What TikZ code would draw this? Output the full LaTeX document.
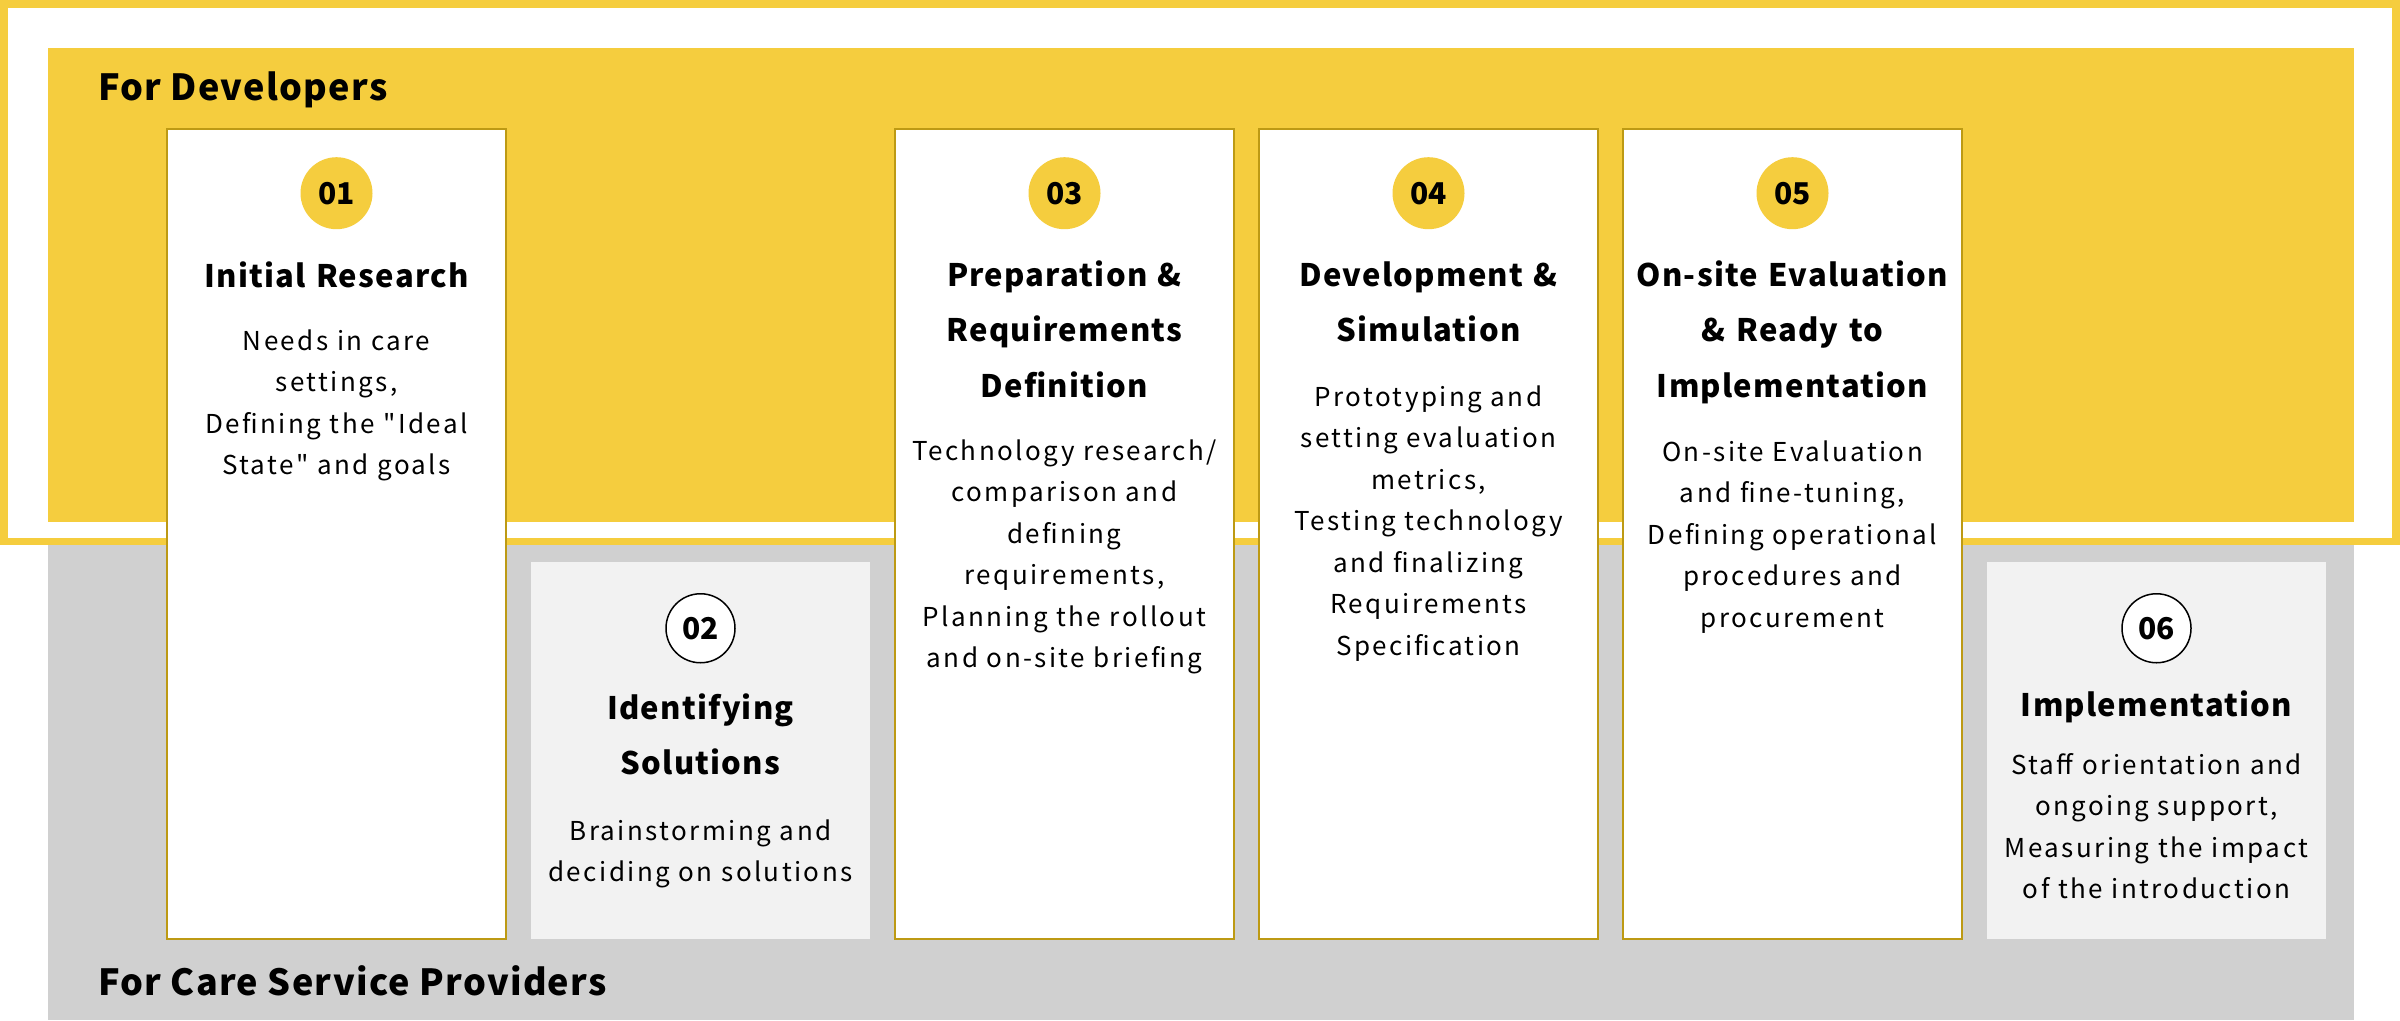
\documentclass[tikz,border=0pt]{standalone}
\usepackage{fontspec}
\setmainfont{Noto Sans CJK JP}[Ligatures=TeXOff]
\usetikzlibrary{positioning}
\definecolor{Mustard}{HTML}{F5CD3E}
\definecolor{Gold}{HTML}{BD9A14}
\definecolor{Band}{HTML}{D0D0D0}
\definecolor{Pale}{HTML}{F2F2F2}

\begin{document}
\begin{tikzpicture}
    [x=1pt, y=1pt,
     devbox/.style={draw=Gold, line width=2pt, fill=white, anchor=north,
                    inner sep=0pt, minimum width=339pt, minimum height=810pt},
     carebox/.style={fill=Pale, anchor=north, inner sep=0pt,
                     minimum width=339pt, minimum height=377pt},
     numdev/.style={circle, fill=Mustard, minimum size=72pt, inner sep=0pt,
                    font=\fontsize{30}{36}\selectfont\bfseries},
     numcare/.style={circle, draw=black, line width=1.5pt, fill=white,
                     minimum size=69pt, inner sep=0pt,
                     font=\fontsize{30}{36}\selectfont\bfseries},
     ttl/.style={anchor=base, text width=339pt, align=center, inner sep=0pt,
                 font=\fontsize{31}{55.5}\selectfont\bfseries\addfontfeatures{LetterSpace=4}},
     txt/.style={anchor=base, text width=339pt, align=center, inner sep=0pt,
                 font=\fontsize{26}{41.5}\selectfont\addfontfeatures{LetterSpace=9.3}},
     band/.style={anchor=base west, inner sep=0pt,
                  font=\fontsize{36}{40}\selectfont\bfseries\addfontfeatures{LetterSpace=3.6}},
    ]
    \useasboundingbox (0,0) rectangle (2400,-1020);

    % Developer frame
    \fill[Mustard] (0,0) rectangle (2400,-545);
    \fill[white] (8,-8) rectangle (2392,-538);
    \fill[Mustard] (48,-48) rectangle (2354,-522);
    % Care provider band
    \fill[Band] (48,-545) rectangle (2354,-1020);

    \node[band] (dev) at (98,-100) {For Developers};
    \node[band] (care) at (98,-995) {For Care Service Providers};

    % Steps done by developers
    \foreach \num / \cx / \ty / \by / \ttl / \txt in
             {01/336.5/-287/-350/{Initial Research}/
                {Needs in care\\settings,\\Defining the "Ideal\\State" and goals},
              03/1064.5/-286/-460/{Preparation \&\\Requirements\\Definition}/
                {Technology research/\\comparison and\\defining\\requirements,\\Planning the rollout\\and on-site briefing},
              04/1428.5/-286/-406/{Development \&\\Simulation}/
                {Prototyping and\\setting evaluation\\metrics,\\Testing technology\\and finalizing\\Requirements\\Specification},
              05/1792.5/-286/-461/{On-site Evaluation\\\& Ready to\\Implementation}/
                {On-site Evaluation\\and fine-tuning,\\Defining operational\\procedures and\\procurement}} {
        \node[devbox] (box\num) at (\cx,-128) {};
        \node[numdev, below=29pt of box\num.north] (num\num) {\num};
        \node[ttl] (title\num) at (\cx,\ty) {\ttl};
        \node[txt] (body\num) at (\cx,\by) {\txt};
    }

    % Steps done by care providers
    \foreach \num / \cx / \ty / \by / \ttl / \txt in
             {02/700.5/-719/-840/{Identifying\\Solutions}/
                {Brainstorming and\\deciding on solutions},
              06/2156.5/-716/-774/{Implementation}/
                {Staff orientation and\\ongoing support,\\Measuring the impact\\of the introduction}} {
        \node[carebox] (box\num) at (\cx,-562) {};
        \node[numcare, below=31pt of box\num.north] (num\num) {\num};
        \node[ttl] (title\num) at (\cx,\ty) {\ttl};
        \node[txt] (body\num) at (\cx,\by) {\txt};
    }
\end{tikzpicture}
\end{document}
